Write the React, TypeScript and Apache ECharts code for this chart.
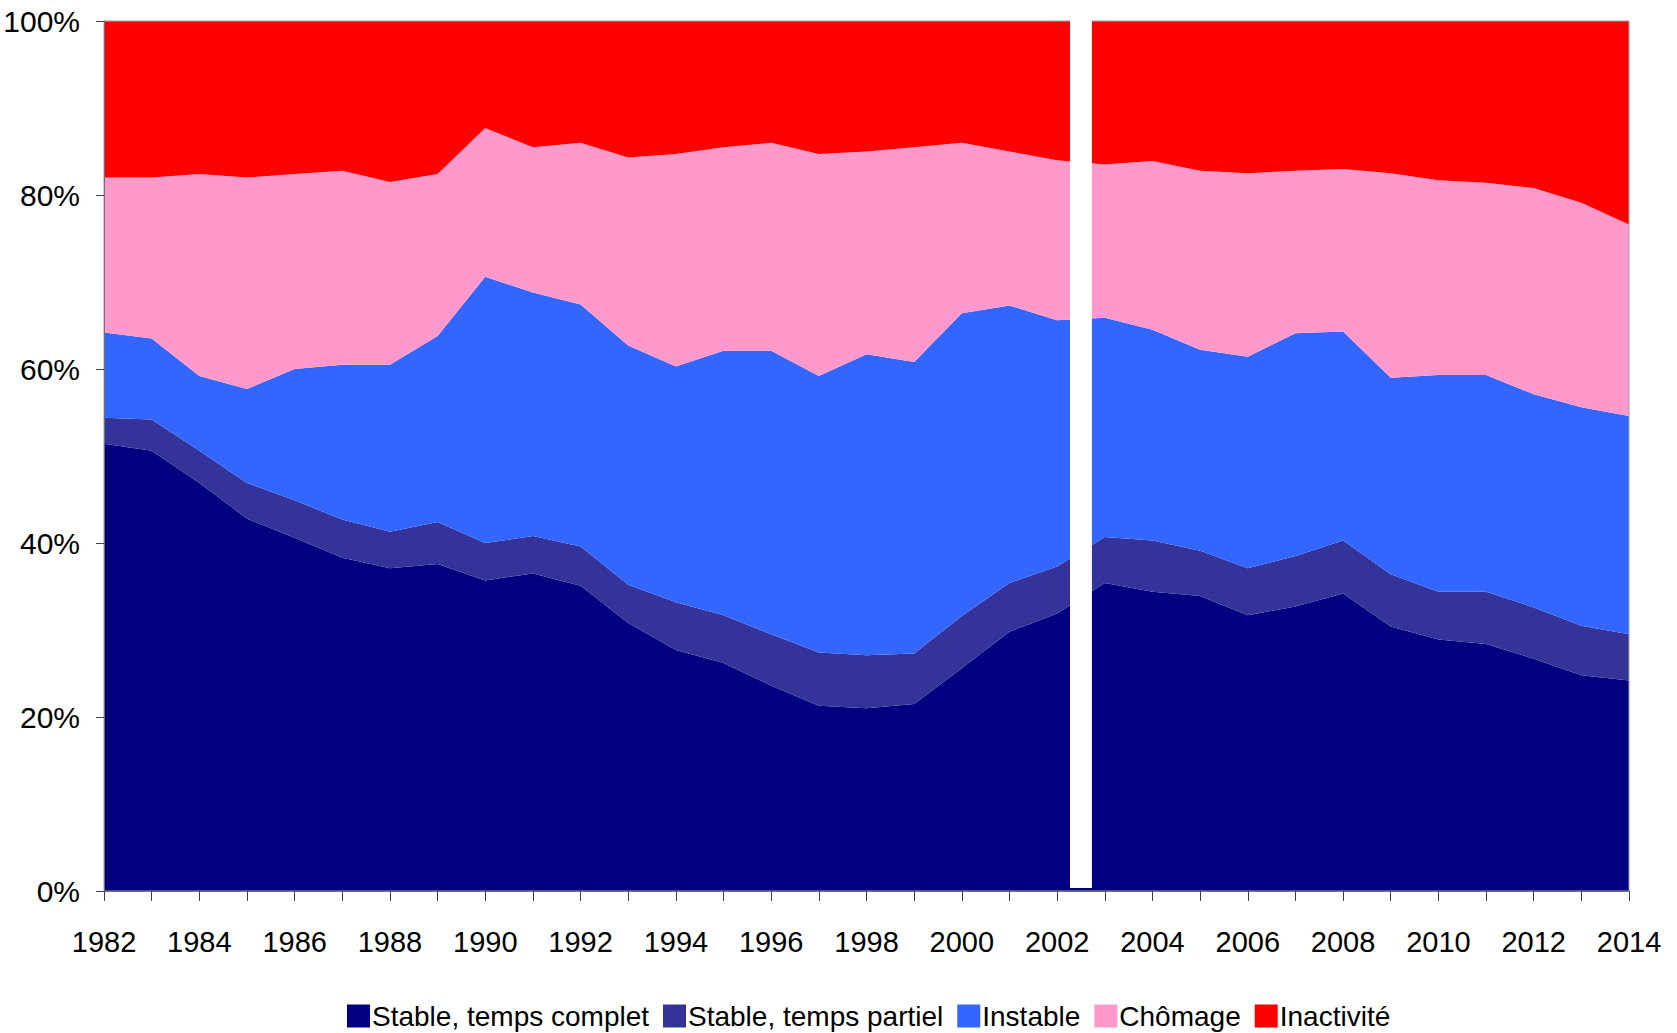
import React, { useEffect, useRef } from "react";
import * as echarts from "echarts";

const years = [1982,1983,1984,1985,1986,1987,1988,1989,1990,1991,1992,1993,1994,1995,1996,1997,1998,1999,2000,2001,2002,2003,2004,2005,2006,2007,2008,2009,2010,2011,2012,2013,2014];
const stableComplet = [51.4,50.6,46.9,42.8,40.6,38.3,37.1,37.6,35.7,36.5,35.1,30.8,27.7,26.2,23.6,21.3,21.0,21.5,25.6,29.8,31.9,35.4,34.4,33.9,31.7,32.7,34.2,30.4,28.9,28.4,26.7,24.8,24.2];
const stablePartiel = [3.0,3.6,3.7,4.1,4.3,4.4,4.2,4.8,4.3,4.3,4.5,4.4,5.5,5.5,5.9,6.1,6.1,5.8,6.0,5.6,5.4,5.3,5.9,5.2,5.4,5.8,6.1,6.0,5.5,6.0,5.9,5.7,5.3];
const instable = [9.8,9.3,8.6,10.8,15.1,17.8,19.2,21.4,30.6,28.0,27.8,27.5,27.1,30.4,32.6,31.8,34.6,33.5,34.8,31.9,28.3,25.2,24.2,23.1,24.3,25.6,24.0,22.6,24.9,24.9,24.5,25.1,25.1];
const chomage = [17.8,18.5,23.2,24.3,22.4,22.3,21.0,18.6,17.1,16.7,18.6,21.6,24.4,23.4,23.9,25.5,23.3,24.7,19.6,17.7,18.4,17.6,19.4,20.6,21.1,18.7,18.7,23.5,22.4,22.1,23.7,23.5,22.0];
const inactivite = [18.0,18.0,17.6,18.0,17.6,17.2,18.5,17.6,12.3,14.5,14.0,15.7,15.3,14.5,14.0,15.3,15.0,14.5,14.0,15.0,16.0,16.5,16.1,17.2,17.5,17.2,17.0,17.5,18.3,18.6,19.2,20.9,23.4];
const seriesNames = ["Stable, temps complet", "Stable, temps partiel", "Instable", "Chômage", "Inactivité"];
const seriesColors = ["#000080", "#333399", "#3366FF", "#FF99CC", "#FF0000"];
const breakRange = [[2002.27, 2002.73, 0.35, 100.3]];

const FONT = "'Liberation Sans', Arial, sans-serif";

export default function App() {
  const ref = useRef<HTMLDivElement>(null);
  useEffect(() => {
    if (!ref.current) return;
    const chart = echarts.init(ref.current, null, { renderer: "svg" });
    const allValues = [stableComplet, stablePartiel, instable, chomage, inactivite];
    const series: any[] = allValues.map((vals, i) => ({
      name: seriesNames[i],
      type: "line",
      stack: "total",
      xAxisIndex: 0,
      data: vals,
      showSymbol: false,
      symbol: "none",
      lineStyle: { width: 0 },
      areaStyle: { color: seriesColors[i], opacity: 1 },
      itemStyle: { color: seriesColors[i] },
      z: 2,
    }));
    series.push({
      name: "break",
      type: "custom",
      xAxisIndex: 1,
      yAxisIndex: 0,
      z: 5,
      silent: true,
      data: breakRange,
      encode: { x: [0, 1], y: [2, 3] },
      renderItem: (params: any, api: any) => {
        const p0 = api.coord([api.value(0), api.value(3)]);
        const p1 = api.coord([api.value(1), api.value(2)]);
        return {
          type: "rect",
          shape: { x: p0[0], y: p0[1], width: p1[0] - p0[0], height: p1[1] - p0[1] },
          style: { fill: "#FFFFFF" },
        };
      },
    });
    chart.setOption({
      animation: false,
      backgroundColor: "#FFFFFF",
      grid: {
        left: 104,
        top: 21,
        right: 48,
        bottom: 142,
        show: true,
        borderColor: "#A0A0A0",
        borderWidth: 1,
        backgroundColor: "transparent",
        z: 3,
      },
      legend: {
        data: seriesNames,
        left: 342,
        top: 997,
        itemWidth: 23,
        itemHeight: 23,
        itemGap: 14,
        icon: "rect",
        textStyle: { fontFamily: FONT, fontSize: 28, color: "#000", padding: [0, 0, 0, -3] },
      },
      xAxis: [
        {
          type: "category",
          data: years.map(String),
          boundaryGap: false,
          splitLine: { show: false },
          axisLine: { show: true, lineStyle: { color: "#707070", width: 1 } },
          axisTick: { show: true, length: 10, interval: 0, lineStyle: { color: "#404040" } },
          axisLabel: {
            fontFamily: FONT,
            fontSize: 29,
            color: "#000",
            margin: 36,
            interval: 1,
          },
          z: 4,
        },
        {
          type: "value",
          min: 1982,
          max: 2014,
          show: false,
          splitLine: { show: false },
        },
      ],
      yAxis: {
        type: "value",
        min: 0,
        max: 100,
        interval: 20,
        splitLine: { show: false },
        axisLine: { show: true, lineStyle: { color: "#707070", width: 1 } },
        axisTick: { show: true, length: 8, lineStyle: { color: "#404040" } },
        axisLabel: {
          fontFamily: FONT,
          fontSize: 30,
          color: "#000",
          margin: 24,
          formatter: (v: number) => v + "%",
        },
        z: 4,
      },
      series,
    });
    return () => chart.dispose();
  }, []);
  return (
    <div
      ref={ref}
      style={{ position: "absolute", left: 0, top: 0, width: 1677, height: 1033 }}
    />
  );
}
